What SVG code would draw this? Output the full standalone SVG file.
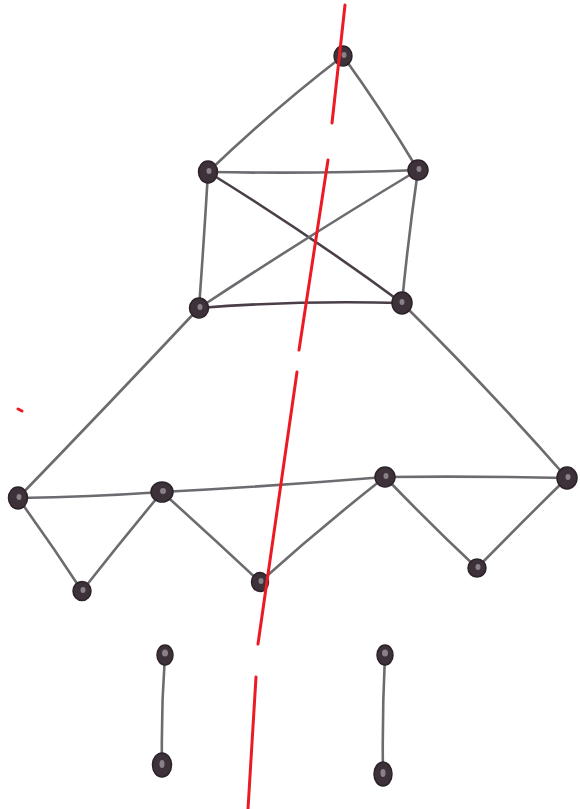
<svg xmlns="http://www.w3.org/2000/svg" width="580" height="809" viewBox="0 0 580 809">
<style>
.e{fill:none;stroke:#6e6b70;stroke-width:2.6;stroke-linecap:round}
.d{stroke:#4a3f48}
.n{fill:#3d3239;stroke:#2c2229;stroke-width:1.5}
.h{fill:#8a8088}
.r{fill:none;stroke:#ec1a22;stroke-width:3;stroke-linecap:round}
</style>
<rect width="580" height="809" fill="#fff"/>
<g id="connectors">
<path class="e" d="M343,56 Q275,108 208,172"/>
<path class="e" d="M343,56 Q382,110 418,170"/>
<path class="e" d="M208,172 Q320,174 418,170"/>
<path class="e" d="M208,172 Q204,240 199,308"/>
<path class="e" d="M418,170 Q408,240 402,303"/>
<path class="e d" d="M208,172 Q310,235 402,303"/>
<path class="e" d="M418,170 Q310,235 199,308"/>
<path class="e d" d="M199,308 Q300,300 402,303"/>
<path class="e" d="M199,308 Q108,405 18,498"/>
<path class="e" d="M402,303 Q488,388 567,478"/>
<path class="e" d="M18,498 Q90,497 162,492"/>
<path class="e" d="M162,492 Q275,486 385,477"/>
<path class="e" d="M385,477 Q480,476 567,478"/>
<path class="e" d="M18,498 Q52,545 82,591"/>
<path class="e" d="M82,591 Q122,540 162,492"/>
<path class="e" d="M162,492 Q212,537 260,582"/>
<path class="e" d="M260,582 Q320,528 385,477"/>
<path class="e" d="M385,477 Q430,524 477,568"/>
<path class="e" d="M477,568 Q522,522 567,478"/>
<path class="e" d="M165,655 Q161,710 162,765"/>
<path class="e" d="M385,655 Q382,715 383,774"/>
</g>
<g id="A"><ellipse class="n" cx="343" cy="56" rx="9" ry="10"/><ellipse class="h" cx="344" cy="55" rx="2.5" ry="3"/></g>
<g id="B"><ellipse class="n" cx="208" cy="172" rx="9.5" ry="11"/><ellipse class="h" cx="209" cy="171" rx="2.5" ry="3"/></g>
<g id="C"><ellipse class="n" cx="418" cy="170" rx="10" ry="10"/><ellipse class="h" cx="419" cy="169" rx="2.5" ry="3"/></g>
<g id="D"><ellipse class="n" cx="199" cy="308" rx="9.5" ry="10"/><ellipse class="h" cx="200" cy="307" rx="2.5" ry="3"/></g>
<g id="E"><ellipse class="n" cx="402" cy="303" rx="10" ry="11"/><ellipse class="h" cx="402" cy="302" rx="2.5" ry="3"/></g>
<g id="F"><ellipse class="n" cx="18" cy="498" rx="9.5" ry="11"/><ellipse class="h" cx="19" cy="497" rx="2.5" ry="3"/></g>
<g id="G"><ellipse class="n" cx="162" cy="492" rx="11" ry="10"/><ellipse class="h" cx="163" cy="491" rx="3" ry="3"/></g>
<g id="H"><ellipse class="n" cx="385" cy="477" rx="10" ry="10"/><ellipse class="h" cx="386" cy="476" rx="2.5" ry="3"/></g>
<g id="I"><ellipse class="n" cx="567" cy="478" rx="10" ry="11"/><ellipse class="h" cx="568" cy="477" rx="2.5" ry="3"/></g>
<g id="J"><ellipse class="n" cx="82" cy="591" rx="9" ry="9.5"/><ellipse class="h" cx="83" cy="590" rx="2.5" ry="3"/></g>
<g id="K"><ellipse class="n" cx="260" cy="582" rx="8.5" ry="9.5"/><ellipse class="h" cx="261" cy="581" rx="2.5" ry="3"/></g>
<g id="L"><ellipse class="n" cx="477" cy="568" rx="9" ry="9"/><ellipse class="h" cx="478" cy="567" rx="2.5" ry="3"/></g>
<g id="M"><ellipse class="n" cx="165" cy="655" rx="8" ry="10"/><ellipse class="h" cx="165" cy="653" rx="3" ry="3.5"/></g>
<g id="N"><ellipse class="n" cx="162" cy="765" rx="9.5" ry="12"/><ellipse class="h" cx="162" cy="764" rx="2.5" ry="4"/></g>
<g id="O"><ellipse class="n" cx="385" cy="655" rx="8" ry="10"/><ellipse class="h" cx="385" cy="653" rx="3" ry="3.5"/></g>
<g id="P"><ellipse class="n" cx="383" cy="774" rx="9" ry="12"/><ellipse class="h" cx="383" cy="773" rx="2.5" ry="4"/></g>
<g id="redline">
<path class="r" d="M345,5 L332,123"/>
<path class="r" d="M328,160 L299,350"/>
<path class="r" d="M297,372 L258,644"/>
<path class="r" d="M256,677 L248,809"/>
<path class="r" d="M18,409 L22,411" stroke-width="2"/>
</g>
</svg>
